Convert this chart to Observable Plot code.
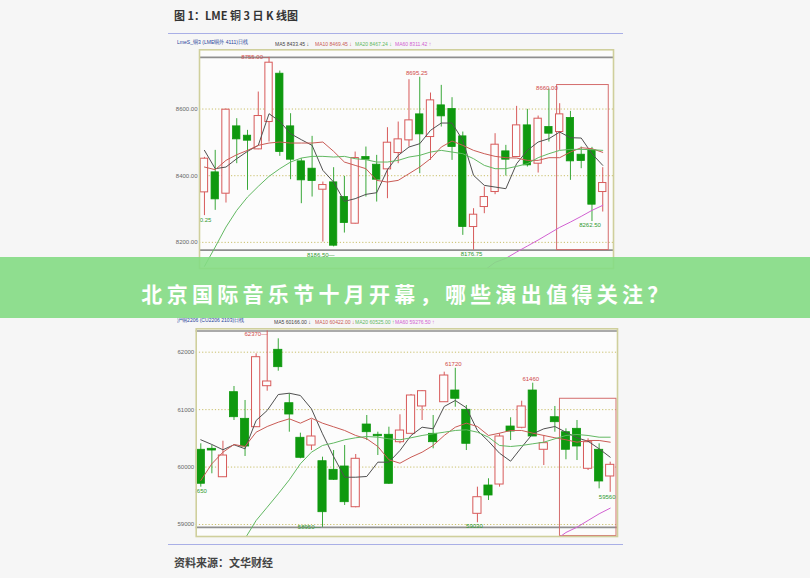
<!DOCTYPE html>
<html><head><meta charset="utf-8">
<script src="https://cdn.jsdelivr.net/npm/d3@7"></script>
<script src="https://cdn.jsdelivr.net/npm/@observablehq/plot@0.6"></script>
<style>
html,body{margin:0;padding:0;}
body{width:810px;height:578px;background:#f6f6f6;position:relative;overflow:hidden;font-family:"Noto Sans CJK SC",sans-serif;}
#title{position:absolute;left:174px;top:7px;font-size:11px;font-weight:700;color:#333;line-height:16px;white-space:nowrap;}
#source{position:absolute;left:174px;top:554px;font-size:11px;font-weight:700;color:#444;line-height:16px;white-space:nowrap;}
.hline{position:absolute;left:168px;width:455px;height:1.5px;background:#a9afe6;}
#banner{position:absolute;left:0;top:257px;width:810px;height:61px;background:rgba(132,219,132,0.9);}
#banner .bt{position:absolute;left:0;right:0;top:25px;text-align:center;color:#fff;font-size:21px;font-weight:700;letter-spacing:4.3px;padding-left:4px;line-height:22px;white-space:nowrap;}
.hdr{position:absolute;font-size:6px;white-space:nowrap;font-family:"Liberation Sans",sans-serif;line-height:8px;transform:scaleX(0.84);transform-origin:left center;}
svg.chart{position:absolute;left:0;top:0;}
</style>
</head><body>
<div id="title">图 1：LME 铜 3 日 K 线图</div>
<div class="hline" style="top:32.5px"></div>
<div class="hline" style="top:543.5px"></div>
<div id="source">资料来源：文华财经</div>
<script>
// ---------- Chart 1: LME copper 3M daily ----------
const topOpen  = [8350,8410,8346,8548,8520,8479,8561,8706,8548,8443,8421,8358,8380,8336,8256,8456,8433,8419,8468,8506,8584,8516,8611,8600,8518,8246,8306,8351,8473,8456,8551,8436,8546,8531,8573,8463,8476,8351];
const topClose = [8451,8329,8598,8509,8505,8579,8739,8471,8448,8386,8384,8372,8190,8258,8453,8448,8388,8499,8509,8566,8524,8626,8578,8486,8246,8283,8336,8493,8448,8551,8431,8571,8526,8584,8443,8444,8313,8378];
const topHigh  = [8455,8476,8600,8571,8536,8651,8755,8714,8586,8451,8518,8381,8424,8398,8471,8486,8461,8544,8561,8688,8695.25,8648,8671,8634,8531,8301,8366,8526,8491,8608,8599,8579,8660,8616,8593,8486,8485,8424];
const topLow   = [8280.25,8296,8318,8436,8356,8478,8501,8458,8388,8316,8336,8201,8186.5,8228,8255,8336,8321,8331,8436,8486,8406,8446,8546,8446,8221,8176.75,8286,8343,8399,8455,8426,8408,8501,8476,8386,8421,8262.5,8291];
const topMA5   = [8476,8421,8426,8451,8473,8491,8586,8563,8526,8508,8491,8416,8381,8323,8331,8344,8349,8418,8461,8486,8496,8536,8558,8558,8506,8401,8371,8366,8361,8436,8476,8501,8511,8531,8514,8513,8466,8431];
const topMA10  = [8426,8418,8446,8463,8476,8491,8498,8501,8498,8498,8498,8501,8473,8441,8431,8421,8386,8381,8386,8406,8426,8451,8486,8504,8491,8476,8466,8458,8454,8453,8446,8446,8454,8454,8471,8484,8481,8470];
const topMA20  = [8128,8186,8246,8296,8336,8368,8398,8421,8441,8453,8458,8458,8456,8458,8451,8448,8441,8441,8446,8456,8461,8471,8476,8471,8466,8451,8431,8421,8421,8428,8436,8454,8466,8476,8479,8479,8478,8476];
const topMA60  = [null,null,null,null,null,null,null,null,null,null,null,null,null,null,null,null,null,null,null,null,null,null,null,null,null,null,8116,8140,8152,8171,8189,8207,8226,8245,8261,8278,8296,8311];
const topGrid  = [8200,8400,8600];
const topBox   = {from:32.76, to:37.56, low:8176.75, high:8672};
const topHeaderName = "LmeS_铜3 (LME铜外 4111)日线";
const topMAText = ["MA5 8433.45 ↓","MA10 8469.45 ↓","MA20 8467.24 ↓","MA60 8311.42 ↑"];

// ---------- Chart 2: SHFE copper daily ----------
const botOpen  = [60301,60318,59823,61304,60840,60694,61408,62042,61112,60510,60375,60102,59952,60010,59301,60741,60562,60562,60433,60579,61055,60579,61129,61333,60997,59186,59679,59696,60706,60684,61333,60301,60868,60607,60666,59970,60301,59836];
const botClose = [59709,60288,60201,60868,60358,61913,61490,61739,60915,60161,60532,59214,59778,59388,60144,60607,60537,59709,60636,61246,61321,60433,61594,61189,60405,59475,59505,60532,60619,61055,60532,60416,60781,60301,60358,60433,59749,60039];
const botHigh  = [60405,60375,60450,61403,61159,61972,62370,62233,61276,60590,60823,60172,60288,60375,60219,60898,60607,60694,60910,61264,61333,60898,61652,61720,61072,59650,59796,60579,60858,61147,61460,60550,61055,60666,60811,60492,60405,60085];
const botLow   = [59650,59883,59820,60811,60184,60690,61321,61669,60607,60144,60288,58950,59766,59331,59291,60462,60201,59697,60405,60575,60811,60318,61125,61042,60288,59030,59418,59650,60462,60666,60530,60027,60607,60127,60114,59940,59621,59560];
const botMA5   = [60475,60393,60301,60388,60318,60811,60985,61263,61286,61246,61014,60579,60184,59823,59823,59836,60085,60085,60288,60550,60694,60666,61055,61159,61032,60637,60450,60241,60102,60346,60579,60666,60706,60607,60510,60450,60318,60172];
const botMA10  = [59766,60057,60259,60393,60358,60607,60706,60781,60840,60764,60851,60764,60701,60637,60550,60492,60358,60127,60067,60172,60259,60376,60550,60694,60764,60706,60550,60590,60637,60637,60590,60550,60510,60475,60433,60463,60463,60433];
const botMA20  = [null,null,null,58373,58756,59070,59301,59534,59778,60057,60259,60376,60419,60475,60510,60532,60520,60492,60475,60510,60550,60579,60607,60637,60649,60607,60520,60376,60358,60376,60405,60433,60492,60550,60567,60550,60520,60520];
const botMA60  = [null,null,null,null,null,null,null,null,null,null,null,null,null,null,null,null,null,null,null,null,null,null,null,null,null,null,null,null,null,null,null,null,58721,58861,58953,59070,59186,59284];
const botGrid  = [59000,60000,61000,62000];
const botBox   = {from:32.46, to:37.57, low:58800, high:61189};
const botHeaderName = "沪铜2206 (CU2206 2103)日线";
const botMAText = ["MA5 60166.00 ↓","MA10 60422.00 ↓","MA20 60525.00 ↑","MA60 59276.50 ↑"];

const bannerText = "北京国际音乐节十月开幕，哪些演出值得关注？";

// ---------- styling ----------
const RED = "#d75a5a", GREEN = "#0f990f", WICKG = "#3aa83a";
const MA_COLORS = ["#505050", "#c95b55", "#62b862", "#d160d1"];
const LBL_FONT = "Liberation Sans, sans-serif";

function rows(open, close, high, low) {
  return open.map((o, i) => ({i, open: o, close: close[i], high: high[i], low: low[i]}));
}
const isUp = d => d.close >= d.open;
const series = arr => arr.map((v, i) => ({i, v}));

function candleChart(cfg) {
  const data = rows(cfg.open, cfg.close, cfg.high, cfg.low);
  const up = data.filter(isUp), down = data.filter(d => !isUp(d));
  const hw = cfg.halfWidth;
  const lbl = (idx, key, text, fill, opts) =>
    Plot.text([data[idx]], {x: "i", y: key, text: () => text, fill, fontSize: 6, fontFamily: LBL_FONT, ...opts});
  const marks = [
    Plot.frame({fill: "#fcfcfc", stroke: "none"}),
    Plot.ruleY(cfg.grid, {stroke: "#c9bf6a", strokeDasharray: "1.2,2"}),
    Plot.ruleY([d3.min(cfg.low), d3.max(cfg.high)], {stroke: "#8f8f8f", strokeWidth: 1.6}),
    Plot.rect([cfg.box], {x1: "from", x2: "to", y1: "low", y2: "high", fill: "none", stroke: "#d46d6d", strokeWidth: 1}),
    Plot.ruleX(up, {x: "i", y1: "low", y2: "high", stroke: RED, strokeWidth: 1}),
    Plot.ruleX(down, {x: "i", y1: "low", y2: "high", stroke: WICKG, strokeWidth: 1}),
    Plot.rect(up, {x1: d => d.i - hw, x2: d => d.i + hw, y1: "open", y2: "close", fill: "#fdfdfd", stroke: RED, strokeWidth: 1}),
    Plot.rect(down, {x1: d => d.i - hw, x2: d => d.i + hw, y1: "open", y2: "close", fill: GREEN, stroke: GREEN, strokeWidth: 0.8}),
    ...cfg.mas.map((m, k) => Plot.line(series(m), {x: "i", y: "v", stroke: MA_COLORS[k], strokeWidth: 1, clip: true})),
    ...cfg.labels.map(l => lbl(l[0], l[1], l[2], l[1] === "high" ? "#d04a4a" : "#2f9a2f", l[3])),
    Plot.frame({stroke: "#cfcf9c", strokeWidth: 1.6})
  ];
  const svg = Plot.plot({
    width: 810, height: cfg.height,
    marginLeft: cfg.left, marginRight: 810 - cfg.right, marginTop: cfg.top, marginBottom: cfg.height - cfg.bottom,
    style: {background: "transparent", fontSize: "6px", fontFamily: LBL_FONT, color: "#666", overflow: "visible"},
    x: {domain: cfg.xdomain, axis: null},
    y: {domain: cfg.ydomain, ticks: cfg.grid, tickFormat: cfg.fmt, tickSize: 0, tickPadding: 2, label: null},
    marks
  });
  svg.classList.add("chart");
  return svg;
}

const chart1 = candleChart({
  open: topOpen, close: topClose, high: topHigh, low: topLow,
  mas: [topMA5, topMA10, topMA20, topMA60], grid: topGrid, box: topBox,
  height: 280, left: 199, right: 613, top: 49.3, bottom: 268,
  xdomain: [-0.46, 38], ydomain: [8121.6, 8777.7], halfWidth: 0.34,
  fmt: d3.format(".2f"),
  labels: [
    [6, "high", "8755.00—", {textAnchor: "end", dx: 0, dy: 0}],
    [20, "high", "8695.25", {lineAnchor: "bottom", dx: -3, dy: -2}],
    [32, "high", "8660.00", {lineAnchor: "bottom", dx: -2, dy: 1}],
    [0, "low", "8280.25", {textAnchor: "end", lineAnchor: "top", dx: 7, dy: 2, clip: true}],
    [12, "low", "8186.50—", {textAnchor: "end", lineAnchor: "top", dx: 1, dy: 6}],
    [25, "low", "8176.75", {lineAnchor: "top", dx: -2, dy: 2}],
    [36, "low", "8262.50", {lineAnchor: "top", dx: -2, dy: 1}]
  ]
});
const chart2 = candleChart({
  open: botOpen, close: botClose, high: botHigh, low: botLow,
  mas: [botMA5, botMA10, botMA20, botMA60], grid: botGrid, box: botBox,
  height: 578, left: 195.7, right: 617, top: 328.3, bottom: 536,
  xdomain: [-0.416, 37.66], ydomain: [58791, 62407.4], halfWidth: 0.37,
  fmt: d3.format("d"),
  labels: [
    [6, "high", "62370—", {textAnchor: "end", dx: 0, dy: 3}],
    [23, "high", "61720", {lineAnchor: "bottom", dx: -2, dy: -2}],
    [30, "high", "61460", {lineAnchor: "bottom", dx: -2, dy: -2}],
    [0, "low", "59650", {textAnchor: "end", lineAnchor: "top", dx: 6, dy: 2, clip: true}],
    [11, "low", "58950—", {textAnchor: "end", dx: -2, dy: 0}],
    [25, "low", "59030", {lineAnchor: "top", dx: -3, dy: 1}],
    [37, "low", "59560", {lineAnchor: "top", dx: -3, dy: 2}]
  ]
});
document.body.appendChild(chart1);
document.body.appendChild(chart2);

// headers
function header(name, texts, y, xs) {
  const n = document.createElement("div");
  n.className = "hdr"; n.textContent = name;
  n.style.left = "177px"; n.style.top = (y - 5) + "px"; n.style.color = "#26449a";
  document.body.appendChild(n);
  texts.forEach((t, k) => {
    const s = document.createElement("div");
    s.className = "hdr"; s.textContent = t;
    s.style.left = xs[k] + "px"; s.style.top = (y - 3) + "px";
    s.style.color = k === 0 ? "#444" : MA_COLORS[k];
    document.body.appendChild(s);
  });
}
header(topHeaderName, topMAText, 43, [275, 315, 355, 395]);
header(botHeaderName, botMAText, 321, [274, 315, 355, 395]);

// banner
const banner = document.createElement("div");
banner.id = "banner";
const bt = document.createElement("div");
bt.className = "bt"; bt.textContent = bannerText;
banner.appendChild(bt);
document.body.appendChild(banner);
</script>
</body></html>
